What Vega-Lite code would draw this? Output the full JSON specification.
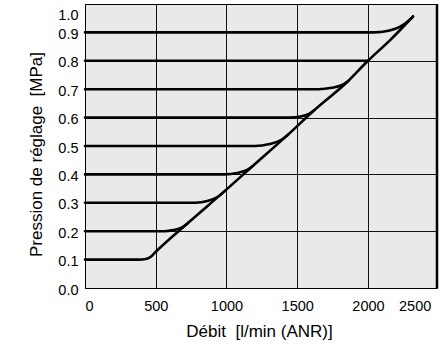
{
  "$schema": "https://vega.github.io/schema/vega-lite/v6.json",
  "autosize": "none",
  "padding": {"left": 85, "top": 4, "right": 8, "bottom": 57},
  "width": 352,
  "height": 284,
  "config": {
    "font": "Liberation Sans",
    "view": {"stroke": "#000", "strokeWidth": 1, "fill": "#e8e9e8"}
  },
  "data": {
    "values": [
      {"s": "0.1", "q": 0, "p": 0.1}, {"s": "0.1", "q": 380, "p": 0.1}, {"s": "0.1", "q": 430, "p": 0.102}, {"s": "0.1", "q": 465, "p": 0.11}, {"s": "0.1", "q": 495, "p": 0.125},
      {"s": "0.1", "q": 730, "p": 0.23}, {"s": "0.1", "q": 989, "p": 0.342}, {"s": "0.1", "q": 1180, "p": 0.427}, {"s": "0.1", "q": 1435, "p": 0.54}, {"s": "0.1", "q": 1620, "p": 0.626},
      {"s": "0.1", "q": 1859, "p": 0.728}, {"s": "0.1", "q": 2000, "p": 0.8}, {"s": "0.1", "q": 2155, "p": 0.872}, {"s": "0.1", "q": 2318, "p": 0.956},
      {"s": "0.2", "q": 0, "p": 0.2}, {"s": "0.2", "q": 560, "p": 0.2}, {"s": "0.2", "q": 625, "p": 0.204}, {"s": "0.2", "q": 685, "p": 0.213}, {"s": "0.2", "q": 730, "p": 0.23},
      {"s": "0.3", "q": 0, "p": 0.3}, {"s": "0.3", "q": 780, "p": 0.3}, {"s": "0.3", "q": 865, "p": 0.306}, {"s": "0.3", "q": 935, "p": 0.32}, {"s": "0.3", "q": 989, "p": 0.342},
      {"s": "0.4", "q": 0, "p": 0.4}, {"s": "0.4", "q": 990, "p": 0.4}, {"s": "0.4", "q": 1075, "p": 0.405}, {"s": "0.4", "q": 1138, "p": 0.414}, {"s": "0.4", "q": 1180, "p": 0.427},
      {"s": "0.5", "q": 0, "p": 0.5}, {"s": "0.5", "q": 1200, "p": 0.5}, {"s": "0.5", "q": 1305, "p": 0.507}, {"s": "0.5", "q": 1388, "p": 0.522}, {"s": "0.5", "q": 1435, "p": 0.54},
      {"s": "0.6", "q": 0, "p": 0.6}, {"s": "0.6", "q": 1440, "p": 0.6}, {"s": "0.6", "q": 1525, "p": 0.604}, {"s": "0.6", "q": 1583, "p": 0.613}, {"s": "0.6", "q": 1620, "p": 0.626},
      {"s": "0.7", "q": 0, "p": 0.7}, {"s": "0.7", "q": 1650, "p": 0.7}, {"s": "0.7", "q": 1745, "p": 0.705}, {"s": "0.7", "q": 1813, "p": 0.714}, {"s": "0.7", "q": 1859, "p": 0.728},
      {"s": "0.8", "q": 0, "p": 0.8}, {"s": "0.8", "q": 2000, "p": 0.8},
      {"s": "0.9", "q": 0, "p": 0.9}, {"s": "0.9", "q": 2040, "p": 0.9}, {"s": "0.9", "q": 2145, "p": 0.906}, {"s": "0.9", "q": 2228, "p": 0.92}, {"s": "0.9", "q": 2285, "p": 0.94}, {"s": "0.9", "q": 2318, "p": 0.956}
    ]
  },
  "layer": [
    {
      "mark": {"type": "line", "interpolate": "monotone", "color": "#000", "strokeWidth": 2.6, "strokeCap": "round"},
      "encoding": {
        "x": {
          "field": "q", "type": "quantitative",
          "scale": {"domain": [0, 2488], "nice": false, "zero": true},
          "axis": {
            "title": "Débit\u00a0\u00a0[l/min (ANR)]",
            "titleFontSize": 17, "titleFontWeight": "normal", "titleColor": "#000",
            "titleX": 174, "titleY": 48, "titleBaseline": "alphabetic", "titleAlign": "center",
            "values": [0, 500, 1000, 1500, 2000, 2330],
            "labelExpr": "datum.value > 2200 ? '2500' : format(datum.value, 'd')",
            "labelFontSize": 14.5, "labelColor": "#000", "labelPadding": 11,
            "ticks": false, "domainColor": "#000", "domainWidth": 1,
            "grid": true, "gridColor": "#111", "gridWidth": 1,
            "gridOpacity": {"condition": {"test": "datum.value == 0 || datum.value > 2200", "value": 0}, "value": 1}
          }
        },
        "y": {
          "field": "p", "type": "quantitative",
          "scale": {"domain": [0, 1], "nice": false},
          "axis": {
            "title": "Pression de réglage\u00a0\u00a0[MPa]",
            "titleFontSize": 17, "titleFontWeight": "normal", "titleColor": "#000",
            "titleX": -44, "titleY": 150, "titleBaseline": "alphabetic", "titleAlign": "center", "titleAngle": -90,
            "values": [0, 0.1, 0.2, 0.3, 0.4, 0.5, 0.6, 0.7, 0.8, 0.9, 1.0],
            "format": ".1f",
            "labelFontSize": 14.5, "labelColor": "#000", "labelPadding": 7,
            "labelBaseline": {"condition": {"test": "datum.value > 0.95", "value": "top"}, "value": "middle"},
            "labelOffset": {"condition": {"test": "datum.value > 0.95", "value": 4}, "value": 2},
            "ticks": false, "domainColor": "#000", "domainWidth": 1,
            "grid": true, "gridColor": "#111", "gridWidth": 1,
            "gridOpacity": {"condition": {"test": "round(datum.value * 10) % 2 == 1 || datum.value == 0 || datum.value > 0.95", "value": 0}, "value": 1}
          }
        },
        "detail": {"field": "s"}
      }
    },
    {
      "data": {"values": [{}]},
      "mark": {"type": "rule", "color": "#000", "strokeWidth": 2.5},
      "encoding": {"x": {"datum": 2488}}
    }
  ]
}
